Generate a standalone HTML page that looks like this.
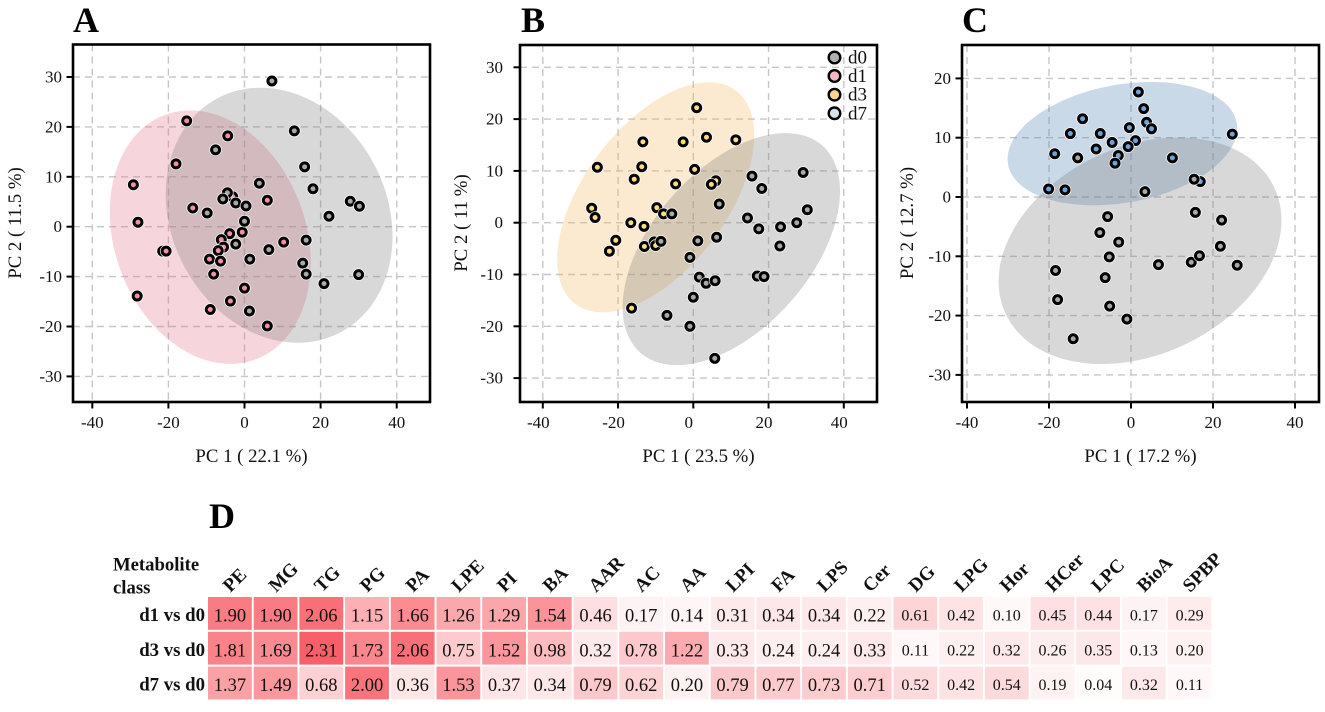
<!DOCTYPE html>
<html lang="en">
<head>
<meta charset="utf-8">
<title>PCA score plots and metabolite class heatmap</title>
<style>
html,body{margin:0;padding:0;background:#fff;}
svg{display:block;}
text{font-family:"Liberation Serif",serif;fill:#111;}
.letter{font-size:36px;font-weight:bold;fill:#000;}
.axis-title{font-size:18.8px;text-anchor:middle;}
.tick{font-size:17px;}
.legend-text{font-size:19px;}
.rowlab{font-size:18.8px;font-weight:bold;text-anchor:end;}
.collab{font-size:19px;font-weight:bold;}
.corner{font-size:18.7px;font-weight:bold;}
</style>
</head>
<body>
<svg id="figure" width="1325" height="712" viewBox="0 0 1325 712" xmlns="http://www.w3.org/2000/svg">
  <text class="letter" x="73" y="32">A</text>
  <text class="letter" x="521" y="32">B</text>
  <text class="letter" x="962" y="32">C</text>
  <text class="letter" x="209" y="528">D</text>

  <g id="panel-a"></g>
  <g id="panel-b"></g>
  <g id="panel-c"></g>

  <text class="axis-title" x="251.5" y="462">PC 1 ( 22.1 %)</text>
  <text class="axis-title" x="698.5" y="462">PC 1 ( 23.5 %)</text>
  <text class="axis-title" x="1140.5" y="462">PC 1 ( 17.2 %)</text>
  <text class="axis-title" transform="translate(21,223) rotate(-90)">PC 2 ( 11.5 %)</text>
  <text class="axis-title" transform="translate(467,223) rotate(-90)">PC 2 ( 11 %)</text>
  <text class="axis-title" transform="translate(913,223) rotate(-90)">PC 2 ( 12.7 %)</text>

  <g id="panel-legend">
    <g>
      <circle cx="834.5" cy="57.5" r="5.8" fill="#b0b0b0" stroke="#000" stroke-width="2.4"/>
      <text class="legend-text" x="848" y="63.5">d0</text>
    </g>
    <g>
      <circle cx="834.5" cy="76" r="5.8" fill="#f4b6c4" stroke="#000" stroke-width="2.4"/>
      <text class="legend-text" x="848" y="82">d1</text>
    </g>
    <g>
      <circle cx="834.5" cy="94.7" r="5.8" fill="#f9d68f" stroke="#000" stroke-width="2.4"/>
      <text class="legend-text" x="848" y="100.7">d3</text>
    </g>
    <g>
      <circle cx="834.5" cy="113.3" r="5.8" fill="#d3e1ef" stroke="#000" stroke-width="2.4"/>
      <text class="legend-text" x="848" y="119.3">d7</text>
    </g>
  </g>

  <text class="corner" x="113" y="570.7">Metabolite</text>
  <text class="corner" x="113" y="593.7">class</text>
  <g id="heatmap"></g>
</svg>

<script>
// Panel A scores
var aD0X = [7.2,13.1,15.8,18,27.8,30.2,22.2,3.9,-7.6,-4.5,-5.7,-2.3,0.4,-9.8,0,-2.3,6.4,1.4,15.3,16.2,16.2,30,20.9,1.3];
var aD0Y = [29.2,19.2,12,7.6,5.1,4.1,2.1,8.7,15.4,6.8,5.55,4.75,4.15,2.75,1.1,-3.5,-4.6,-6.5,-7.3,-2.7,-9.5,-9.6,-11.4,-16.9];
var aD1X = [-15.2,-4.4,-18,-29.2,-28,-13.6,6,-3.1,-0.6,-3.9,-6.1,-5.5,-6.9,-9.2,-6.3,-8.1,10.3,0,-3.7,-9,6,-28.2,-21.5,-20.6];
var aD1Y = [21.2,18.2,12.6,8.4,0.9,3.75,5.3,6,-1.1,-1.4,-2.6,-4.1,-4.8,-6.5,-6.9,-9.5,-3.1,-12.3,-14.9,-16.6,-19.9,-13.9,-4.9,-4.9];
// Panel B scores
var bD0X = [15.6,18.2,29.2,30.3,27.5,23.2,17.4,14.4,6.9,-5.7,6.2,1.2,23,-0.9,17,18.8,1.6,3.4,5.8,0,-7,-0.9,5.7,-8.6];
var bD0Y = [9,6.6,9.7,2.5,0,-0.8,-1.2,0.9,3.6,1.7,-2.8,-3.5,-4.5,-6.7,-10.3,-10.4,-10.5,-11.7,-11.2,-14.4,-17.9,-20,-26.2,-3.6];
var bD3X = [0.9,3.5,11.3,-2.7,-13.4,-25.5,-13.7,0.35,-15.7,-4.7,6,4.8,-27,-26.1,-9.7,-7.9,-16.6,-13.1,-20.6,-22.3,-13,-10.4,-10,-16.4];
var bD3Y = [22.2,16.5,16,15.6,15.6,10.7,10.8,10.3,8.4,7.5,8.1,7.4,2.8,1,2.9,1.7,0,-0.7,-3.4,-5.5,-4.6,-3.7,-4.4,-16.5];
// Panel C scores
var cD0X = [-13,3.4,15.4,15.7,22.1,21.8,-5.7,-7.6,-3,-5.3,6.7,14.7,16.7,25.9,-18.4,-17.9,-6.3,-5.2,-1,-14.1];
var cD0Y = [6.6,0.9,3,-2.6,-3.9,-8.3,-3.3,-6,-7.6,-10.1,-11.4,-11,-9.9,-11.5,-12.4,-17.3,-13.6,-18.4,-20.6,-23.9];
var cD7X = [1.8,3.1,3.8,5,-11.8,-14.8,-7.5,-0.4,24.7,-4.6,1.1,-0.7,-8.5,-18.6,-3.1,-3.9,10.1,-20.1,-16.1,16.9];
var cD7Y = [17.7,14.9,12.6,11.5,13.2,10.7,10.7,11.7,10.6,9.2,9.5,8.5,8.1,7.3,7,5.7,6.6,1.35,1.2,2.6];
// Ellipses: centre x, centre y, half extent x, half extent y, correlation (data units)
var aD0Ellipse = [9.1,2.3,29.8,25.55,-0.165];
var aD1Ellipse = [-9,-2.1,26.4,25.4,-0.2];
var bD0Ellipse = [10.1,-5.1,28.9,22.4,0.5];
var bD3Ellipse = [-10,4.9,26.2,22.2,0.54];
var cD0Ellipse = [2.2,-9.07,34.5,19.1,0.27];
var cD7Ellipse = [-2.1,9,28,10.4,0.25];
// Tick labels
var xTicks = [-40,-20,0,20,40];
var yTicksAB = [30,20,10,0,-10,-20,-30];
var yTicksC = [20,10,0,-10,-20,-30];
// Heatmap
var heatCategories = ['PE','MG','TG','PG','PA','LPE','PI','BA','AAR','AC','AA','LPI','FA','LPS','Cer','DG','LPG','Hor','HCer','LPC','BioA','SPBP'];
var heatRows = ['d1 vs d0','d3 vs d0','d7 vs d0'];
var heatD1 = [1.90,1.90,2.06,1.15,1.66,1.26,1.29,1.54,0.46,0.17,0.14,0.31,0.34,0.34,0.22,0.61,0.42,0.10,0.45,0.44,0.17,0.29];
var heatD3 = [1.81,1.69,2.31,1.73,2.06,0.75,1.52,0.98,0.32,0.78,1.22,0.33,0.24,0.24,0.33,0.11,0.22,0.32,0.26,0.35,0.13,0.20];
var heatD7 = [1.37,1.49,0.68,2.00,0.36,1.53,0.37,0.34,0.79,0.62,0.20,0.79,0.77,0.73,0.71,0.52,0.42,0.54,0.19,0.04,0.32,0.11];

var NS = 'http://www.w3.org/2000/svg';
var COLORS = {
  d0: {point:'#a9a9a9', fill:'#7f7f7f'},
  d1: {point:'#f490a8', fill:'#e1738a'},
  d3: {point:'#fbdc80', fill:'#f1b95f'},
  d7: {point:'#6ea4d6', fill:'#4b81b3'}
};

function make(tag, attrs, parent){
  var n = document.createElementNS(NS, tag);
  for (var k in attrs) n.setAttribute(k, attrs[k]);
  parent.appendChild(n);
  return n;
}

function drawPanel(root, p){
  function sx(v){ return p.x0 + v * p.xs; }
  function sy(v){ return p.y0 - v * p.ys; }

  xTicks.forEach(function(t){
    var g = make('line',{x1:sx(t),x2:sx(t),y1:p.top,y2:p.bottom,stroke:'#c6c6c6','stroke-width':1.4,'stroke-dasharray':'7 5'},root);
    
    
  });
  p.yTicks.forEach(function(t){
    var g = make('line',{x1:p.left,x2:p.right,y1:sy(t),y2:sy(t),stroke:'#c6c6c6','stroke-width':1.4,'stroke-dasharray':'7 5'},root);
    
    
  });

  p.series.forEach(function(s){
    var e = s.ellipse, pts = [];
    var root1 = Math.sqrt(1 - e[4]*e[4]);
    for (var i = 0; i < 120; i++){
      var t = i / 120 * 2 * Math.PI;
      var dx = e[0] + e[2] * Math.cos(t);
      var dy = e[1] + e[3] * (e[4] * Math.cos(t) + root1 * Math.sin(t));
      pts.push(sx(dx).toFixed(1) + ',' + sy(dy).toFixed(1));
    }
    var poly = make('polygon',{points:pts.join(' '),fill:COLORS[s.key].fill,'fill-opacity':0.3},root);
    
    
  });

  p.series.forEach(function(s){
    s.xs.forEach(function(v,i){
      var halo = make('circle',{cx:sx(v),cy:sy(s.ys[i]),r:6.3,fill:'#fff','fill-opacity':0.85},root);
      
      
      var c = make('circle',{cx:sx(v),cy:sy(s.ys[i]),r:4,fill:COLORS[s.key].point,stroke:'#000','stroke-width':3},root);
      
      
    });
  });

  var frame = make('rect',{x:p.left,y:p.top,width:p.right-p.left,height:p.bottom-p.top,fill:'none',stroke:'#000','stroke-width':2.6},root);
  
  

  xTicks.forEach(function(t){
    var m = make('line',{x1:sx(t),x2:sx(t),y1:p.bottom,y2:p.bottom+6.5,stroke:'#000','stroke-width':2},root);
    
    
    var l = make('text',{x:sx(t)+p.labelShift,y:p.bottom+26,'text-anchor':'middle','class':'tick'},root);
    l.textContent = String(t);
    
    
  });
  p.yTicks.forEach(function(t){
    var m = make('line',{x1:p.left-6.5,x2:p.left,y1:sy(t),y2:sy(t),stroke:'#000','stroke-width':2},root);
    
    
    var l = make('text',{x:p.labelRight,y:sy(t)+5.5,'text-anchor':'end','class':'tick'},root);
    l.textContent = String(t);
    
    
  });
}

drawPanel(document.getElementById('panel-a'),{
  left:73,right:430,top:44.5,bottom:402,x0:244.5,xs:3.805,y0:226.7,ys:4.99,labelRight:62,labelShift:0,yTicks:yTicksAB,
  series:[
    {key:'d1',xs:aD1X,ys:aD1Y,ellipse:aD1Ellipse},
    {key:'d0',xs:aD0X,ys:aD0Y,ellipse:aD0Ellipse}
  ]
});
drawPanel(document.getElementById('panel-b'),{
  left:520,right:877,top:45,bottom:402,x0:693.3,xs:3.7625,y0:222.7,ys:5.18,labelRight:503,labelShift:-4.5,yTicks:yTicksAB,
  series:[
    {key:'d3',xs:bD3X,ys:bD3Y,ellipse:bD3Ellipse},
    {key:'d0',xs:bD0X,ys:bD0Y,ellipse:bD0Ellipse}
  ]
});
drawPanel(document.getElementById('panel-c'),{
  left:962,right:1319,top:45,bottom:402,x0:1131,xs:4.1,y0:197,ys:5.93,labelRight:951,labelShift:0,yTicks:yTicksC,
  series:[
    {key:'d7',xs:cD7X,ys:cD7Y,ellipse:cD7Ellipse},
    {key:'d0',xs:cD0X,ys:cD0Y,ellipse:cD0Ellipse}
  ]
});

(function(){
  var root = document.getElementById('heatmap');
  var left = 208, pitchX = 45.7, top = 597, pitchY = 34.8, cellW = 43.8, cellH = 32.8;
  var rowsData = [heatD1, heatD3, heatD7];
  function colX(i){ return left + i * pitchX; }
  function rowY(j){ return top + j * pitchY; }
  function shade(v){
    var f = Math.min(1, v / 2.31);
    var r = Math.round(255 + (248 - 255) * f);
    var g = Math.round(255 + (95 - 255) * f);
    var b = Math.round(255 + (104 - 255) * f);
    return 'rgb(' + r + ',' + g + ',' + b + ')';
  }
  heatCategories.forEach(function(name,i){
    var cx = colX(i) + cellW / 2;
    var t = make('text',{'class':'collab',transform:'translate(' + (cx + 0.5) + ',593) rotate(-45)'},root);
    t.textContent = name;
    
    
  });
  heatRows.forEach(function(name,j){
    var t = make('text',{'class':'rowlab',x:205,y:rowY(j)+24},root);
    t.textContent = name;
    
    
    rowsData[j].forEach(function(v,i){
      var c = make('rect',{x:colX(i),y:rowY(j),width:cellW,height:cellH,fill:shade(v)},root);
      
      
      var l = make('text',{x:colX(i)+cellW/2,y:rowY(j)+(i>=15?23.5:24.5),'text-anchor':'middle','font-size':(i>=15?16:18.5)},root);
      l.textContent = v.toFixed(2);
      
      
    });
  });
})();
</script>
</body>
</html>
